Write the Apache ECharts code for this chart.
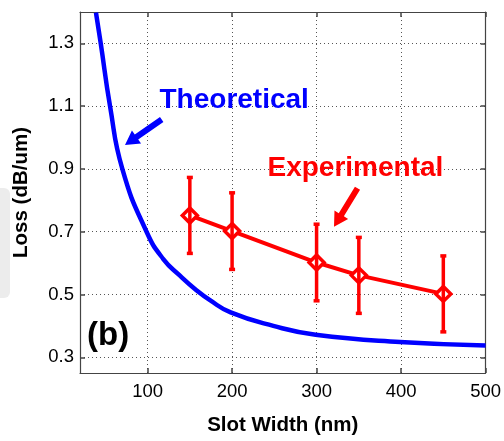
<!DOCTYPE html>
<html>
<head>
<meta charset="utf-8">
<script src="https://cdn.jsdelivr.net/npm/echarts@6/dist/echarts.min.js"></script>
<style>
html,body{margin:0;padding:0;background:#fff;}
#c{width:504px;height:441px;}
</style>
</head>
<body>
<div id="c"></div>
<script>
// ---- data ----
const xTicks = [100, 200, 300, 400, 500];
const yTicks = [0.3, 0.5, 0.7, 0.9, 1.1, 1.3];
const theoX = [38.9, 44.5, 55.5, 70.1, 98.9, 118.6, 138.3, 158.1, 173.8, 198.3, 248.8, 298.9, 398.7, 500];
const theoY = [1.398, 1.301, 1.101, 0.900, 0.699, 0.613, 0.560, 0.513, 0.482, 0.443, 0.400, 0.372, 0.349, 0.338];
const expX = [150, 200, 300, 350, 450];
const expY = [0.752, 0.702, 0.602, 0.561, 0.502];
const expErr = [0.121, 0.122, 0.122, 0.121, 0.121];

const FONT = "'Liberation Sans', Arial, sans-serif";
const chart = echarts.init(document.getElementById('c'), null, {renderer: 'canvas'});

function arrow(tail, tip, shaftHalf, headLen, headHalf, color) {
  const dx = tip[0] - tail[0], dy = tip[1] - tail[1];
  const L = Math.hypot(dx, dy);
  const ux = dx / L, uy = dy / L, px = -uy, py = ux;
  const bx = tip[0] - ux * headLen, by = tip[1] - uy * headLen;
  return {
    type: 'polygon',
    shape: {points: [
      [tail[0] + px * shaftHalf, tail[1] + py * shaftHalf],
      [bx + px * shaftHalf, by + py * shaftHalf],
      [bx + px * headHalf, by + py * headHalf],
      tip,
      [bx - px * headHalf, by - py * headHalf],
      [bx - px * shaftHalf, by - py * shaftHalf],
      [tail[0] - px * shaftHalf, tail[1] - py * shaftHalf]
    ]},
    style: {fill: color},
    z: 100
  };
}

const axisCol = '#444';
const gridL = 80, gridR = 18, gridT = 12, gridB = 67;

const option = {
  animation: false,
  backgroundColor: '#fff',
  grid: {left: gridL, right: gridR, top: gridT, bottom: gridB, containLabel: false},
  xAxis: [{
    type: 'value', min: 20, max: 500, position: 'bottom',
    name: 'Slot Width (nm)', nameLocation: 'middle', nameGap: 42,
    nameTextStyle: {fontFamily: FONT, fontWeight: 'bold', fontSize: 20.5, color: '#000'},
    axisLine: {show: true, onZero: false, lineStyle: {color: axisCol, width: 1.2}},
    axisTick: {show: true, inside: true, length: 5, customValues: xTicks, lineStyle: {color: axisCol, width: 1.5}},
    axisLabel: {show: true, customValues: xTicks, margin: 9, fontFamily: FONT, fontSize: 18.5, color: '#000'},
    splitLine: {show: true, lineStyle: {color: '#555', type: [1, 3], width: 1}}
  }, {
    type: 'value', min: 20, max: 500, position: 'top',
    axisLine: {show: true, onZero: false, lineStyle: {color: axisCol, width: 1.2}},
    axisTick: {show: true, inside: true, length: 5, customValues: xTicks, lineStyle: {color: axisCol, width: 1.5}},
    axisLabel: {show: false},
    splitLine: {show: false}
  }],
  yAxis: [{
    type: 'value', min: 0.25, max: 1.4, position: 'left',
    name: 'Loss (dB/um)', nameLocation: 'middle', nameGap: 48, nameRotate: 90,
    nameTextStyle: {fontFamily: FONT, fontWeight: 'bold', fontSize: 20.5, color: '#000'},
    axisLine: {show: true, onZero: false, lineStyle: {color: axisCol, width: 1.2}},
    axisTick: {show: true, inside: true, length: 5, customValues: yTicks, lineStyle: {color: axisCol, width: 1.5}},
    axisLabel: {show: true, customValues: yTicks, margin: 6, fontFamily: FONT, fontSize: 18.5, color: '#000',
      formatter: v => v.toFixed(1)},
    splitLine: {show: true, lineStyle: {color: '#555', type: [1, 3], width: 1}}
  }, {
    type: 'value', min: 0.25, max: 1.4, position: 'right',
    axisLine: {show: true, onZero: false, lineStyle: {color: axisCol, width: 1.2}},
    axisTick: {show: true, inside: true, length: 5, customValues: yTicks, lineStyle: {color: axisCol, width: 1.5}},
    axisLabel: {show: false},
    splitLine: {show: false}
  }],
  series: [{
    type: 'line',
    name: 'Theoretical',
    data: theoX.map((x, i) => [x, theoY[i]]),
    smooth: 0.5,
    showSymbol: false,
    clip: true,
    lineStyle: {color: '#0000ff', width: 4.5},
    z: 3
  }, {
    type: 'line',
    name: 'Experimental',
    data: expX.map((x, i) => [x, expY[i]]),
    symbol: 'diamond',
    symbolSize: 15,
    showSymbol: true,
    lineStyle: {color: '#ff0000', width: 4},
    itemStyle: {color: '#fff', borderColor: '#ff0000', borderWidth: 3.5},
    z: 4
  }, {
    type: 'custom',
    name: 'err',
    data: expX.map((x, i) => [x, expY[i] - expErr[i], expY[i] + expErr[i]]),
    renderItem: function (params, api) {
      const x = api.value(0);
      const lo = api.coord([x, api.value(1)]);
      const hi = api.coord([x, api.value(2)]);
      const cw = 3;
      const st = {stroke: '#ff0000', lineWidth: 3.5};
      return {
        type: 'group',
        children: [
          {type: 'line', shape: {x1: lo[0], y1: lo[1], x2: hi[0], y2: hi[1]}, style: st},
          {type: 'line', shape: {x1: lo[0] - cw, y1: lo[1], x2: lo[0] + cw, y2: lo[1]}, style: st},
          {type: 'line', shape: {x1: hi[0] - cw, y1: hi[1], x2: hi[0] + cw, y2: hi[1]}, style: st}
        ]
      };
    },
    z: 5
  }],
  graphic: [
    {type: 'rect', left: -6, top: 188, shape: {width: 16, height: 110, r: 6}, style: {fill: '#ececec'}, z: -10},
    {type: 'text', x: 159.5, y: 100.5, style: {text: 'Theoretical', font: 'bold 28px ' + FONT, fill: '#0000ff', textVerticalAlign: 'middle', textAlign: 'left'}, z: 100},
    {type: 'text', x: 267.5, y: 168, style: {text: 'Experimental', font: 'bold 28px ' + FONT, fill: '#ff0000', textVerticalAlign: 'middle', textAlign: 'left'}, z: 100},
    {type: 'text', x: 87, y: 335.5, style: {text: '(b)', font: 'bold 33px ' + FONT, fill: '#000', textVerticalAlign: 'middle', textAlign: 'left'}, z: 100},
    arrow([161.7, 119.5], [125, 145], 3, 14, 8, '#0000ff'),
    arrow([357.5, 188.3], [334, 226.7], 3, 14, 8, '#ff0000')
  ]
};
chart.setOption(option);
</script>
</body>
</html>
